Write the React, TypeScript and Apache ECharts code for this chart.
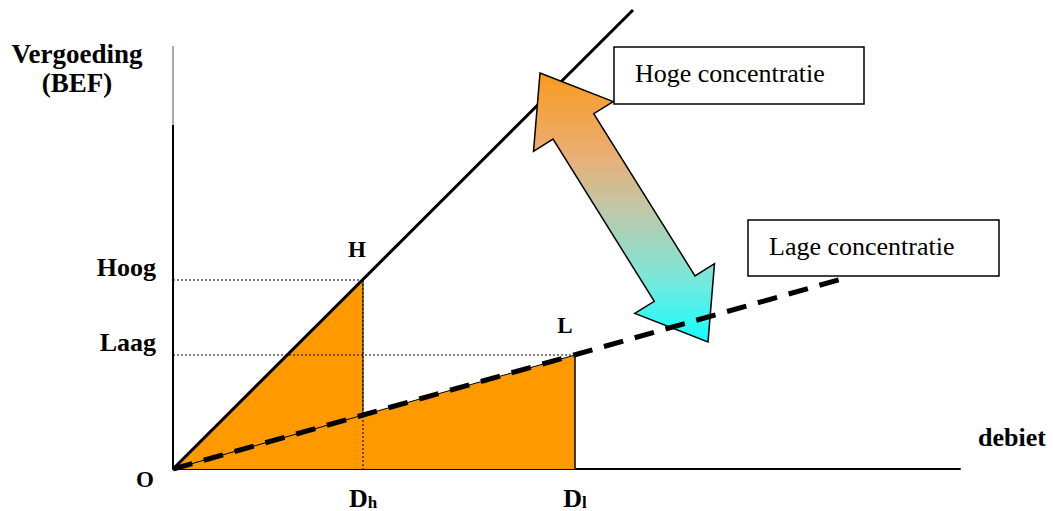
import React, { useEffect, useRef } from "react";
import * as echarts from "echarts";

// ---- data (axis units: debiet along x, vergoeding along y) ----
const X_MAX = 787;
const Y_MAX = 469;
const ORIGIN = [0, 0];
const HIGH_POINT = [190, 189]; // (D_h, Hoog) -> point H
const LOW_POINT = [402, 114]; // (D_l, Laag) -> point L
const HIGH_LINE_END = [460, 459];
const LOW_LINE_END = [672, 191];
const Y_AXIS_SOLID_TOP = 344;
const Y_AXIS_TOP = 423;
const Y_TICK_VALUES = [114, 189];
const Y_TICK_LABELS = ["Laag", "Hoog"];
const X_TICK_VALUES = [190, 402];
const X_TICK_MAIN = ["D", "D"];
const X_TICK_SUB = ["h", "l"];
const ARROW_TIPS = [367, 396, 535, 127]; // from tip (x,y) to tip (x,y)
const BOX_TEXTS = ["Hoge concentratie", "Lage concentratie"];
const Y_TITLE = ["Vergoeding", "(BEF)"];
const X_TITLE = "debiet";
const POINT_NAMES = ["O", "H", "L"];

const FONT = '"Liberation Serif", "Times New Roman", serif';
const ORANGE = "#FF9900";

export default function App() {
  const ref = useRef<HTMLDivElement>(null);
  useEffect(() => {
    document.body.style.margin = "0";
    const chart = echarts.init(ref.current!, null, { renderer: "svg" });

    const lowSlope = LOW_POINT[1] / LOW_POINT[0];
    const crossY = lowSlope * HIGH_POINT[0];

    const seg = (name: string, data: number[][], width: number, color: string, type: any, z: number) => ({
      name,
      type: "line",
      data,
      symbol: "none",
      silent: true,
      z,
      lineStyle: { color, width, type, cap: "butt" },
    });

    const arrowRender = (params: any, api: any) => {
      const a = api.coord([api.value(0), api.value(1)]);
      const b = api.coord([api.value(2), api.value(3)]);
      const dx = b[0] - a[0];
      const dy = b[1] - a[1];
      const len = Math.sqrt(dx * dx + dy * dy);
      const ux = dx / len, uy = dy / len;
      const nx = -uy, ny = ux;
      const headLen = 63, headHalf = 47, shaftHalf = 24;
      const P = (t: number, s: number) => [a[0] + ux * t + nx * s, a[1] + uy * t + ny * s];
      const points = [
        P(0, 0),
        P(headLen, -headHalf),
        P(headLen, -shaftHalf),
        P(len - headLen, -shaftHalf),
        P(len - headLen, -headHalf),
        P(len, 0),
        P(len - headLen, headHalf),
        P(len - headLen, shaftHalf),
        P(headLen, shaftHalf),
        P(headLen, headHalf),
      ];
      return {
        type: "polygon",
        shape: { points },
        style: {
          fill: {
            type: "linear",
            x: 0, y: 0, x2: 0, y2: 1,
            colorStops: [
              { offset: 0, color: "#FA9A1E" },
              { offset: 0.3, color: "#EAAE72" },
              { offset: 0.5, color: "#C2C6A6" },
              { offset: 0.75, color: "#7FE6D8" },
              { offset: 1, color: "#14FFFF" },
            ],
          },
          stroke: "#000",
          lineWidth: 1.5,
        },
      };
    };

    const boldText = (text: string, x: number, y: number, size: number, align = "center") => ({
      type: "text",
      x,
      y,
      style: { text, font: `bold ${size}px ${FONT}`, fill: "#000", align, verticalAlign: "middle" },
    });

    chart.setOption({
      animation: false,
      grid: { left: 173, top: 0, width: X_MAX, height: Y_MAX },
      xAxis: {
        type: "value",
        min: 0,
        max: X_MAX,
        axisLine: { show: true, lineStyle: { color: "#000", width: 2 } },
        axisTick: { show: false },
        splitLine: { show: false },
        axisLabel: {
          show: true,
          customValues: X_TICK_VALUES,
          margin: 16,
          verticalAlign: "top",
          formatter: (v: number) => {
            const i = X_TICK_VALUES.indexOf(v);
            return i < 0 ? "" : `{a|${X_TICK_MAIN[i]}}{b|${X_TICK_SUB[i]}}`;
          },
          rich: {
            a: { fontFamily: FONT, fontWeight: "bold", fontSize: 26, color: "#000", lineHeight: 26, verticalAlign: "middle" },
            b: { fontFamily: FONT, fontWeight: "bold", fontSize: 17, color: "#000", lineHeight: 12, verticalAlign: "bottom" },
          },
        },
      },
      yAxis: {
        type: "value",
        min: 0,
        max: Y_MAX,
        axisLine: { show: false },
        axisTick: { show: false },
        splitLine: { show: false },
        axisLabel: {
          show: true,
          customValues: Y_TICK_VALUES,
          margin: 17,
          verticalAlign: "bottom",
          fontFamily: FONT,
          fontWeight: "bold",
          fontSize: 26,
          color: "#000",
          formatter: (v: number) => {
            const i = Y_TICK_VALUES.indexOf(v);
            return i < 0 ? "" : Y_TICK_LABELS[i];
          },
        },
      },
      graphic: [
        boldText(Y_TITLE[0], 77, 54, 27),
        boldText(Y_TITLE[1], 77, 83, 27),
        boldText(X_TITLE, 1012, 437, 26),
        boldText(POINT_NAMES[0], 145, 479, 23),
        boldText(POINT_NAMES[1], 357, 249, 23),
        boldText(POINT_NAMES[2], 565, 325, 23),
        {
          type: "group",
          z: 10,
          children: [
            { type: "rect", shape: { x: 614, y: 47, width: 250, height: 57 }, style: { fill: "#fff", stroke: "#000", lineWidth: 1.5 } },
            { type: "text", x: 635, y: 73, style: { text: BOX_TEXTS[0], font: `26px ${FONT}`, fill: "#000", align: "left", verticalAlign: "middle" } },
            { type: "rect", shape: { x: 748, y: 220, width: 251, height: 56 }, style: { fill: "#fff", stroke: "#000", lineWidth: 1.5 } },
            { type: "text", x: 769, y: 246, style: { text: BOX_TEXTS[1], font: `26px ${FONT}`, fill: "#000", align: "left", verticalAlign: "middle" } },
          ],
        },
      ],
      series: [
        {
          name: "area H",
          type: "line",
          data: [ORIGIN, HIGH_POINT],
          symbol: "none",
          silent: true,
          z: 1,
          lineStyle: { width: 0 },
          areaStyle: { color: ORANGE, opacity: 1 },
        },
        seg("edge H", [HIGH_POINT, [HIGH_POINT[0], crossY]], 1, "#000", "solid", 2),
        {
          name: "area L",
          type: "line",
          data: [ORIGIN, LOW_POINT],
          symbol: "none",
          silent: true,
          z: 2,
          lineStyle: { color: "#000", width: 1 },
          areaStyle: { color: ORANGE, opacity: 1 },
        },
        seg("edge L", [[LOW_POINT[0], 0], LOW_POINT], 1.5, "#000", "solid", 3),
        seg("dot H v", [HIGH_POINT, [HIGH_POINT[0], 0]], 1, "#000", [2, 2], 3),
        seg("dot H h", [[0, HIGH_POINT[1]], HIGH_POINT], 1, "#000", [2, 2], 3),
        seg("dot L h", [[0, LOW_POINT[1]], LOW_POINT], 1, "#000", [2, 2], 3),
        seg("y axis", [[0, 0], [0, Y_AXIS_SOLID_TOP]], 2, "#000", "solid", 4),
        seg("y axis top", [[0, Y_AXIS_SOLID_TOP], [0, Y_AXIS_TOP]], 1, "#555", "solid", 4),
        seg("Hoge concentratie", [ORIGIN, HIGH_LINE_END], 3, "#000", "solid", 5),
        {
          name: "arrow",
          type: "custom",
          z: 6,
          silent: true,
          renderItem: arrowRender,
          encode: { x: [0, 2], y: [1, 3] },
          data: [ARROW_TIPS],
        },
        seg("Lage concentratie", [ORIGIN, LOW_LINE_END], 5, "#000", [20, 12], 7),
      ],
    });
    return () => chart.dispose();
  }, []);
  return <div ref={ref} style={{ width: 1053, height: 511 }} />;
}
